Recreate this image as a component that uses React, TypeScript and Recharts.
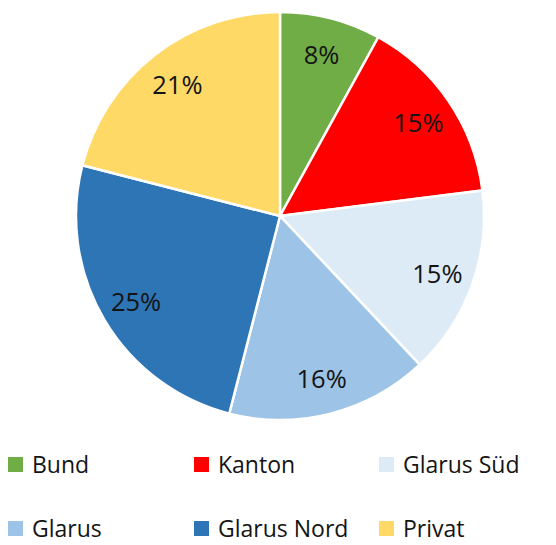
import React from 'react';
import { PieChart, Pie, Cell, Legend } from 'recharts';

const categories = ['Bund', 'Kanton', 'Glarus Süd', 'Glarus', 'Glarus Nord', 'Privat'];
const shares = [8, 15, 15, 16, 25, 21];
const colors = ['#70AD47', '#FF0000', '#DDEBF7', '#9DC3E6', '#2E75B6', '#FFD966'];

const data = categories.map((name, i) => ({ name, value: shares[i] }));

const RADIAN = Math.PI / 180;
const FONT = '"Open Sans", "DejaVu Sans", sans-serif';

const renderLabel = ({ cx, cy, midAngle, outerRadius, value }: any) => {
  const r = outerRadius * 0.82;
  const x = cx + r * Math.cos(-midAngle * RADIAN);
  const y = cy + r * Math.sin(-midAngle * RADIAN);
  return (
    <text
      x={x}
      y={y}
      fill="#141414"
      fontSize={25.5}
      fontFamily={FONT}
      textAnchor="middle"
      dominantBaseline="central"
    >
      {`${value}%`}
    </text>
  );
};

// legend columns / rows, laid out like the original
const colX = [8, 194, 379];
const rowY = [0, 64];

const LegendGrid = () => (
  <div style={{ position: 'relative', width: 556, height: 100 }}>
    {categories.map((name, i) => (
      <div
        key={name}
        style={{
          position: 'absolute',
          left: colX[i % 3],
          top: rowY[Math.floor(i / 3)],
          display: 'flex',
          alignItems: 'center',
          fontFamily: FONT,
          fontSize: 23,
          color: '#141414',
          whiteSpace: 'nowrap',
        }}
      >
        <span style={{ width: 15, height: 15, background: colors[i], marginRight: 9, display: 'inline-block' }} />
        {name}
      </div>
    ))}
  </div>
);

export default function App() {
  return (
    <div style={{ position: 'absolute', left: 0, top: 0, background: '#fff' }}>
      <PieChart width={556} height={545}>
        <Pie
          data={data}
          dataKey="value"
          nameKey="name"
          cx={275}
          cy={211}
          outerRadius={204}
          startAngle={90}
          endAngle={-270}
          stroke="#ffffff"
          strokeWidth={2.5}
          label={renderLabel}
          labelLine={false}
          isAnimationActive={false}
        >
          {data.map((entry, i) => (
            <Cell key={`cell-${i}`} fill={colors[i]} />
          ))}
        </Pie>
        <Legend
          content={() => <LegendGrid />}
          wrapperStyle={{ top: 448, left: 0, width: 556 }}
        />
      </PieChart>
    </div>
  );
}
